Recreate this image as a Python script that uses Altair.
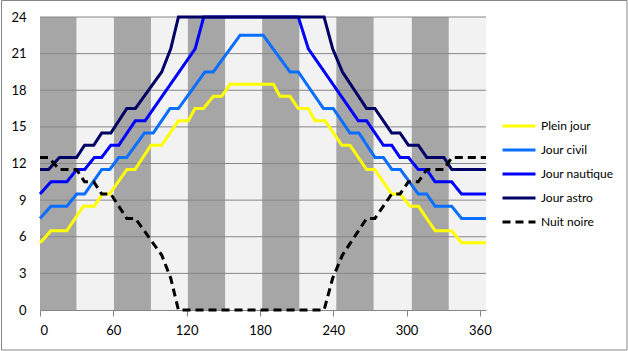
import altair as alt
import pandas as pd

# ---- data ----
series_names = ["Plein jour", "Jour civil", "Jour nautique", "Jour astro", "Nuit noire"]
series_colors = ["#FFFF00", "#0A6EFF", "#0000FF", "#000066", "#000000"]
series_dash = [[1, 0], [1, 0], [1, 0], [1, 0], [8, 5]]

plein_days = [0, 9, 22, 35.5, 44.5, 51, 57, 71, 77.7, 90.8, 99.6, 113.3, 121.4, 126.8, 133.7,
              141.8, 148.7, 155.5, 191, 196.4, 204.6, 211.4, 219.6, 225, 233.3, 247, 253.7,
              267.3, 274, 287.8, 294.6, 302.8, 309.7, 323.3, 336.9, 345, 365]
plein_hours = [5.5, 6.5, 6.5, 8.5, 8.5, 9.5, 9.5, 11.5, 11.5, 13.5, 13.5, 15.5, 15.5, 16.5, 16.5,
               17.5, 17.5, 18.5, 18.5, 17.5, 17.5, 16.5, 16.5, 15.5, 15.5, 13.5, 13.5,
               11.5, 11.5, 9.5, 9.5, 8.5, 8.5, 6.5, 6.5, 5.5, 5.5]

civil_days = [0, 9, 22, 30, 36.5, 50.5, 57, 64.5, 71, 85.5, 92.7, 106.4, 113.3, 135, 141.8,
              163.7, 182.7, 204.6, 211.4, 232, 240, 253.7, 261, 274.1, 281, 288, 295,
              309.6, 316.5, 323.3, 336.9, 345, 365]
civil_hours = [7.5, 8.5, 8.5, 9.5, 9.5, 11.5, 11.5, 12.5, 12.5, 14.5, 14.5, 16.5, 16.5, 19.5, 19.5,
               22.5, 22.5, 19.5, 19.5, 16.5, 16.5, 14.5, 14.5, 12.5, 12.5, 11.5, 11.5,
               9.5, 9.5, 8.5, 8.5, 7.5, 7.5]

nautique_days = [0, 9, 22, 30, 36.5, 44.5, 50.5, 58, 64.5, 78, 86, 127, 134, 211.4, 219.6,
                 260.5, 267.3, 281, 287.8, 294.6, 301.5, 309.6, 316.5, 323.3, 336.9, 345, 365]
nautique_hours = [9.5, 10.5, 10.5, 11.5, 11.5, 12.5, 12.5, 13.5, 13.5, 15.5, 15.5, 21.4, 24, 24, 21.4,
                  15.5, 15.5, 13.5, 13.5, 12.5, 12.5, 11.5, 11.5, 10.5, 10.5, 9.5, 9.5]

astro_days = [0, 7, 16, 30, 36.5, 44, 50.5, 58, 71, 78, 99.6, 107, 113.3, 232.5, 239.5, 247.5,
              267.3, 274.1, 287.8, 294.6, 301.5, 309.6, 316.5, 330.5, 337, 365]
astro_hours = [11.5, 11.5, 12.5, 12.5, 13.5, 13.5, 14.5, 14.5, 16.5, 16.5, 19.5, 21.4, 24, 24, 21.4, 19.5,
               16.5, 16.5, 14.5, 14.5, 13.5, 13.5, 12.5, 12.5, 11.5, 11.5]

nuit_days = [0, 7, 16, 30, 36.5, 44, 50.5, 58, 71, 78, 99.6, 107, 113.3, 232.5, 239.5, 247.5,
             267.3, 274.1, 287.8, 294.6, 301.5, 309.6, 316.5, 330.5, 337, 365]
nuit_hours = [12.5, 12.5, 11.5, 11.5, 10.5, 10.5, 9.5, 9.5, 7.5, 7.5, 4.5, 2.6, 0, 0, 2.6, 4.5,
              7.5, 7.5, 9.5, 9.5, 10.5, 10.5, 11.5, 11.5, 12.5, 12.5]

# dark month bands (Jan, Mar, May, Jul, Sep, Nov)
band_start = [0, 60.5, 121, 181.8, 242.5, 304.3]
band_end = [29.8, 90.8, 151.5, 212.2, 273, 334.5]

grid_hours = [3, 6, 9, 12, 15, 18, 21, 24]
x_ticks = [0, 60, 120, 180, 240, 300, 360]
y_ticks = [0, 3, 6, 9, 12, 15, 18, 21, 24]

# ---- build tables ----
rows = []
for name, days, hours in [
    (series_names[0], plein_days, plein_hours),
    (series_names[1], civil_days, civil_hours),
    (series_names[2], nautique_days, nautique_hours),
    (series_names[3], astro_days, astro_hours),
    (series_names[4], nuit_days, nuit_hours),
]:
    for i, (d, h) in enumerate(zip(days, hours)):
        rows.append({"series": name, "day": d, "hours": h, "order": i})
lines_df = pd.DataFrame(rows)
bands_df = pd.DataFrame({"start": band_start, "end": band_end})
grid_df = pd.DataFrame({"h": grid_hours})

W, H = 446, 293
FONT = "Lato"
GRAY = "#868686"

xscale = alt.Scale(domain=[0, 365], nice=False, zero=False)
yscale = alt.Scale(domain=[0, 24], nice=False)

x_axis = alt.Axis(values=x_ticks, title=None, grid=False, domainColor=GRAY,
                  tickColor=GRAY, tickSize=6, labelPadding=8, labelFont=FONT,
                  labelFontSize=13, labelColor="#000000", labelOverlap=False)
y_axis = alt.Axis(values=y_ticks, title=None, grid=False, ticks=False,
                  domainColor=GRAY, labelPadding=14, labelFont=FONT,
                  labelFontSize=13, labelColor="#000000", labelOverlap=False,
                  labelFlush=False)

bands = alt.Chart(bands_df).mark_rect(color="#A6A6A6").encode(
    x=alt.X("start:Q", scale=xscale, axis=x_axis),
    x2="end:Q",
    y=alt.datum(0, scale=yscale, axis=y_axis),
    y2=alt.datum(24),
)

grid = alt.Chart(grid_df).mark_rule(color=GRAY, strokeWidth=1).encode(
    y=alt.Y("h:Q", scale=yscale, axis=y_axis)
)

lines = alt.Chart(lines_df).mark_line(strokeWidth=3, clip=False, strokeCap="butt").encode(
    x=alt.X("day:Q", scale=xscale, axis=x_axis),
    y=alt.Y("hours:Q", scale=yscale, axis=y_axis),
    color=alt.Color("series:N", sort=series_names,
                    scale=alt.Scale(domain=series_names, range=series_colors),
                    legend=alt.Legend(title=None)),
    strokeDash=alt.StrokeDash("series:N", sort=series_names,
                              scale=alt.Scale(domain=series_names, range=series_dash),
                              legend=alt.Legend(title=None)),
    order="order:Q",
)

frame = alt.Chart(pd.DataFrame({"a": [0]})).mark_rect(
    fill=None, stroke=GRAY, strokeWidth=1
).encode(
    x=alt.value(-38.5), x2=alt.value(587), y=alt.value(-16.5), y2=alt.value(333)
)

chart = alt.layer(bands, grid, lines, frame).properties(
    width=W, height=H,
    autosize=alt.AutoSizeParams(type="none"),
    padding={"left": 40, "top": 17, "right": 628 - 40 - W, "bottom": 351 - 17 - H},
    background="#FFFFFF",
).configure_view(
    stroke=None, fill="#F2F2F2"
).configure_legend(
    orient="none", legendX=461, legendY=97, padding=0,
    symbolType="stroke", symbolStrokeWidth=3, symbolSize=1089,
    clipHeight=24, rowPadding=0, labelOffset=4,
    labelFont=FONT, labelFontSize=12, labelColor="#000000",
)

chart.save("out.html", embed_options={"renderer": "svg", "actions": False})
